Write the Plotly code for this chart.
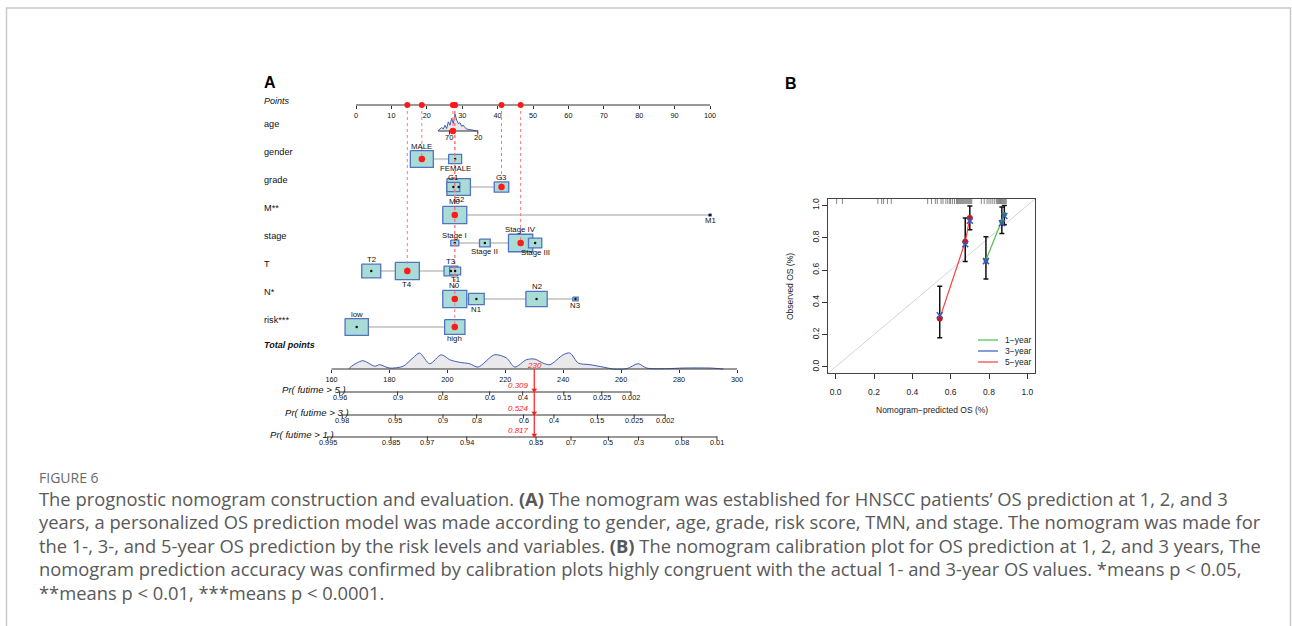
import numpy as np
import plotly.graph_objects as go

W, H = 1292, 626
FONT = "Liberation Sans, Arial, sans-serif"

# ------------------------------------------------------------------ data (A)
points_ticks = list(range(0, 101, 10))
total_ticks = list(range(160, 301, 20))
row_names = ["age", "gender", "grade", "M**", "stage", "T", "N*", "risk***"]

age_ticks = [70, 20]
age_tick_points = [26.4, 34.4]
age_span = [90, 20]
age_dens_age = [89.6, 83.7, 80.8, 77.9, 74.9, 72.0, 69.1, 66.1, 63.1, 60.2, 57.3, 54.3,
                51.4, 48.4, 45.5, 42.6, 39.6, 33.7, 27.9, 21.9]
age_dens_val = [0.04, 0.20, 0.12, 0.34, 0.14, 0.54, 0.34, 0.74, 0.44, 1.0, 0.64, 0.44,
                0.48, 0.28, 0.34, 0.20, 0.12, 0.08, 0.04, 0.0]

gender_levels = ["MALE", "FEMALE"]
gender_pts = [18.6, 28.0]
gender_freq = [23, 13]

grade_levels = ["G1", "G2", "G3"]
grade_pts = [27.5, 29.0, 41.1]
grade_freq = [13, 23.5, 14.5]

m_levels = ["M0", "M1"]
m_pts = [27.9, 100.0]
m_freq = [24, 2.5]

stage_levels = ["Stage I", "Stage II", "Stage IV", "Stage III"]
stage_pts = [27.9, 36.4, 46.5, 50.6]
stage_freq = [8, 10.7, 24.3, 13.3]

t_levels = ["T2", "T4", "T3", "T1"]
t_pts = [4.3, 14.5, 26.8, 28.0]
t_freq = [19, 24, 13.7, 11]

n_levels = ["N0", "N1", "N2", "N3"]
n_pts = [27.9, 34.0, 51.0, 62.0]
n_freq = [24, 15.7, 21.3, 5.3]

risk_levels = ["low", "high"]
risk_pts = [0.2, 27.9]
risk_freq = [23.3, 20.3]

selected_age = 64
selected = {"gender": "MALE", "grade": "G3", "M**": "M0", "stage": "Stage IV",
            "T": "T4", "N*": "N0", "risk***": "high"}

total_dens_t = [166.2, 170.8, 174.9, 176.6, 180.0, 184.7, 188.1, 190.4, 193.9, 197.9, 200.8,
                204.2, 207.7, 210.6, 216.3, 220.4, 223.3, 227.3, 230.2, 233.0, 235.4, 240.0,
                242.3, 245.2, 249.2, 253.8, 257.2, 261.9, 265.9, 268.8, 275.7, 281.4, 290.7, 295.3]
total_dens_val = [0.06, 0.52, 0.17, 0.27, 0.06, 0.17, 0.69, 1.0, 0.33, 0.89, 0.58,
                  0.42, 0.33, 0.12, 0.89, 0.69, 0.12, 0.58, 0.62, 0.37, 0.27, 0.89,
                  1.0, 0.37, 0.27, 0.12, 0.0, 0.02, 0.33, 0.06, 0.02, 0.06, 0.06, 0.0]

total_value = 230
pr_names = ["Pr( futime > 5 )", "Pr( futime > 3 )", "Pr( futime > 1 )"]
pr_values = [0.309, 0.524, 0.817]
pr5_labels = ["0.96", "0.9", "0.8", "0.6", "0.4", "0.15", "0.025", "0.002"]
pr5_total = [162.8, 182.8, 198.4, 214.6, 226.0, 240.2, 253.3, 263.4]
pr3_labels = ["0.98", "0.95", "0.9", "0.8", "0.6", "0.4", "0.15", "0.025", "0.002"]
pr3_total = [163.7, 182.0, 198.5, 210.1, 226.3, 236.8, 251.8, 264.5, 275.2]
pr1_labels = ["0.995", "0.985", "0.97", "0.94", "0.85", "0.7", "0.5", "0.3", "0.08", "0.01"]
pr1_total = [158.7, 180.5, 193.1, 206.7, 230.6, 242.7, 255.6, 266.0, 280.9, 293.1]

# ------------------------------------------------------------------ data (B)
calib_names = ["1\u2212year", "3\u2212year", "5\u2212year"]
calib_colors = ["#4cc24c", "#3a56c8", "#ff3b3b"]
y1_pred = [0.784, 0.867, 0.880]
y1_obs = [0.662, 0.899, 0.944]
y1_lo = [0.545, 0.827, 0.880]
y1_hi = [0.806, 0.990, 1.000]
y1_corr = [0.655, 0.890, 0.935]
y5_pred = [0.543, 0.676, 0.700]
y5_obs = [0.300, 0.775, 0.923]
y5_lo = [0.180, 0.652, 0.850]
y5_hi = [0.500, 0.923, 0.997]
y5_corr = [0.320, 0.760, 0.905]
rug_pred = [0.005, 0.035, 0.22, 0.24, 0.25, 0.27, 0.29,
            0.48, 0.50, 0.52, 0.53, 0.55, 0.56, 0.575, 0.585, 0.595, 0.60, 0.61, 0.62,
            0.63, 0.635, 0.64, 0.645, 0.65, 0.655, 0.66, 0.665, 0.67, 0.675, 0.68, 0.685,
            0.69, 0.695, 0.70, 0.705, 0.71,
            0.76, 0.775, 0.79, 0.80, 0.81, 0.82, 0.83, 0.84, 0.845, 0.85, 0.855, 0.86,
            0.865, 0.87, 0.875, 0.88, 0.885, 0.89]
calib_ticks = [0.0, 0.2, 0.4, 0.6, 0.8, 1.0]

caption_head = "FIGURE 6"
caption_lines = [
    "The prognostic nomogram construction and evaluation. <b>(A)</b> The nomogram was established for HNSCC patients\u2019 OS prediction at 1, 2, and 3",
    "years, a personalized OS prediction model was made according to gender, age, grade, risk score, TMN, and stage. The nomogram was made for",
    "the 1-, 3-, and 5-year OS prediction by the risk levels and variables. <b>(B)</b> The nomogram calibration plot for OS prediction at 1, 2, and 3 years, The",
    "nomogram prediction accuracy was confirmed by calibration plots highly congruent with the actual 1- and 3-year OS values. *means p &lt; 0.05,",
    "**means p &lt; 0.01, ***means p &lt; 0.0001.",
]

# ------------------------------------------------------------------ layout constants
P0_PX, P100_PX = 356, 710          # points axis 0 and 100
T0_PX, T1_PX = 331.5, 737          # total points axis 160 and 300
PPP = (P100_PX - P0_PX) / 100.0
TPP = (T1_PX - T0_PX) / (total_ticks[-1] - total_ticks[0])
Y_POINTS = 105
ROW_Y = {name: 131 + 28 * i for i, name in enumerate(row_names)}
Y_TOTAL = 369
PR_Y = [392, 415, 437]
LABEL_X = 262
BOX_FILL = "#a9dcd6"
BOX_LINE = "#5273c0"
RED = "#ff1a1a"

fig = go.Figure()


def pts_trace(**kw):
    fig.add_trace(go.Scatter(xaxis="x", yaxis="y", showlegend=False, hoverinfo="skip", **kw))


def tot_trace(**kw):
    fig.add_trace(go.Scatter(xaxis="x2", yaxis="y", showlegend=False, hoverinfo="skip", **kw))


annotations = []


def text(x, y, s, xref="x", yref="y", size=7.5, color="#111", xanchor="center",
         yanchor="middle", angle=0, family=FONT):
    annotations.append(dict(x=x, y=y, xref=xref, yref=yref, text=s, showarrow=False,
                            xanchor=xanchor, yanchor=yanchor, textangle=angle,
                            font=dict(size=size, color=color, family=family)))


def age_pts(a):
    a = np.asarray(a, float)
    slope = (age_tick_points[1] - age_tick_points[0]) / (age_ticks[1] - age_ticks[0])
    return age_tick_points[0] + (a - age_ticks[0]) * slope


# Points axis line
pts_trace(x=[points_ticks[0], points_ticks[-1]], y=[Y_POINTS, Y_POINTS], mode="lines",
          line=dict(color="#333", width=1))

# age row
ya = ROW_Y["age"]
dx = list(age_pts(age_dens_age))
dy = [ya - v * 17 for v in age_dens_val]
pts_trace(x=[dx[0]] + dx + [dx[-1]], y=[ya] + dy + [ya], mode="lines", fill="toself",
          fillcolor="#e9e9ec", line=dict(color="#3f5cb8", width=1))
pts_trace(x=list(age_pts(age_span)), y=[ya, ya], mode="lines", line=dict(color="#333", width=1))
pts_trace(x=list(age_pts(age_ticks)), y=[ya + 1.5] * 2, mode="markers",
          marker=dict(symbol="line-ns", size=3, line=dict(color="#333", width=1)))
for a, p in zip(age_ticks, age_pts(age_ticks)):
    text(p, ya + 6, str(a), size=7.5)

# categorical rows
cat_vars = [
    ("gender", gender_levels, gender_pts, gender_freq),
    ("grade", grade_levels, grade_pts, grade_freq),
    ("M**", m_levels, m_pts, m_freq),
    ("stage", stage_levels, stage_pts, stage_freq),
    ("T", t_levels, t_pts, t_freq),
    ("N*", n_levels, n_pts, n_freq),
    ("risk***", risk_levels, risk_pts, risk_freq),
]

for name, levels, pts, freq in cat_vars:
    y = ROW_Y[name]
    pts_trace(x=[min(pts), max(pts)], y=[y, y], mode="lines", line=dict(color="#cfcfcf", width=2))

for name, levels, pts, freq in cat_vars:
    y = ROW_Y[name]
    order = np.argsort(freq)[::-1]
    for i in order:
        hw = freq[i] / 2 / PPP
        hh = freq[i] * 0.72 / 2
        c = pts[i]
        pts_trace(x=[c - hw, c + hw, c + hw, c - hw, c - hw],
                  y=[y - hh, y - hh, y + hh, y + hh, y - hh], mode="lines", fill="toself",
                  fillcolor=BOX_FILL, line=dict(color=BOX_LINE, width=1.3))
    pts_trace(x=pts, y=[y] * len(pts), mode="markers", marker=dict(color="#111", size=2.5))
    rank = np.argsort(np.argsort(pts))
    for i, lev in enumerate(levels):
        hh = freq[i] * 0.72 / 2
        off = -(hh + 4.5) if rank[i] % 2 == 0 else (hh + 4.5)
        text(pts[i], y + off, lev, size=7.8)

# selected values: dotted guide lines and red dots
sel_x = [float(age_pts(selected_age))]
sel_y = [ya]
for name, levels, pts, freq in cat_vars:
    sel_x.append(pts[levels.index(selected[name])])
    sel_y.append(ROW_Y[name])
for x, y in zip(sel_x, sel_y):
    pts_trace(x=[x, x], y=[Y_POINTS, y], mode="lines",
              line=dict(color="#ff7a7a", width=1, dash="dot"))
pts_trace(x=sel_x, y=sel_y, mode="markers", marker=dict(color=RED, size=6.5), cliponaxis=False)
pts_trace(x=sel_x, y=[Y_POINTS] * len(sel_x), mode="markers", marker=dict(color=RED, size=6),
          cliponaxis=False)

# total points density + axis line
ty = [Y_TOTAL - v * 16 for v in total_dens_val]
tot_trace(x=[total_dens_t[0]] + total_dens_t + [total_dens_t[-1]], y=[Y_TOTAL] + ty + [Y_TOTAL],
          mode="lines", fill="toself", fillcolor="#e9e9ec",
          line=dict(color="#3f5cb8", width=1, shape="spline", smoothing=0.8))
tot_trace(x=[total_ticks[0], total_ticks[-1]], y=[Y_TOTAL, Y_TOTAL], mode="lines",
          line=dict(color="#333", width=1))

# probability axes
pr_sets = [(pr5_labels, pr5_total), (pr3_labels, pr3_total), (pr1_labels, pr1_total)]
for (labs, tot), yl, nm in zip(pr_sets, PR_Y, pr_names):
    tot_trace(x=[tot[0], tot[-1]], y=[yl, yl], mode="lines", line=dict(color="#333", width=1))
    tot_trace(x=tot, y=[yl + 1.5] * len(tot), mode="markers",
              marker=dict(symbol="line-ns", size=3, line=dict(color="#333", width=1)))
    for lab, t in zip(labs, tot):
        text(t, yl + 5.8, lab, xref="x2", size=7.3)
    text(tot[0] + 3.0, yl - 3.0, "<i>" + nm + "</i>", xref="x2", size=9.6, xanchor="right")

# red reading line
tot_trace(x=[total_value, total_value], y=[Y_TOTAL, PR_Y[-1]], mode="lines",
          line=dict(color=RED, width=1.2))
tot_trace(x=[total_value] * 3, y=[y - 2 for y in PR_Y], mode="markers",
          marker=dict(symbol="triangle-down", color=RED, size=5), cliponaxis=False)
text(total_value, Y_TOTAL - 4, "<i>%d</i>" % total_value, xref="x2", size=8, color=RED)
for v, yl in zip(pr_values, PR_Y):
    text(total_value - 1.2, yl - 7, "<i>%.3f</i>" % v, xref="x2", size=8, color=RED,
         xanchor="right")

# row labels
text(LABEL_X / W, Y_POINTS - 4, "<i>Points</i>", xref="paper", size=9, xanchor="left")
for name in row_names:
    text(LABEL_X / W, ROW_Y[name] - 7, name, xref="paper", size=9.2, xanchor="left")
text(LABEL_X / W, Y_TOTAL - 24, "<b><i>Total points</i></b>", xref="paper", size=9,
     xanchor="left")

# panel letters
text(LABEL_X / W, 1 - 82 / H, "<b>A</b>", xref="paper", yref="paper", size=16,
     xanchor="left", color="#000")
text(783 / W, 1 - 84 / H, "<b>B</b>", xref="paper", yref="paper", size=16,
     xanchor="left", color="#000")

# ------------------------------------------------------------------ panel B
def cx(**kw):
    fig.add_trace(go.Scatter(xaxis="x3", yaxis="y3", showlegend=False, hoverinfo="skip", **kw))


cx(x=[-0.04, 1.04], y=[-0.04, 1.04], mode="lines", line=dict(color="#d4d4d4", width=1))
cx(x=rug_pred, y=[1.026] * len(rug_pred), mode="markers",
   marker=dict(symbol="line-ns", size=4, color="#555", line=dict(color="#555", width=0.7)))
for pred, obs, lo, hi, corr, col, mcol, msz in [
        (y5_pred, y5_obs, y5_lo, y5_hi, y5_corr, calib_colors[2], "#c81818", 6),
        (y1_pred, y1_obs, y1_lo, y1_hi, y1_corr, calib_colors[0], "#2f8f3a", 5)]:
    cx(x=pred, y=obs, mode="lines+markers", line=dict(color=col, width=1.2),
       marker=dict(color=mcol, size=msz),
       error_y=dict(type="data", symmetric=False,
                    array=[h - o for h, o in zip(hi, obs)],
                    arrayminus=[o - l for o, l in zip(obs, lo)],
                    color="#111", thickness=1.5, width=2.5))
    cx(x=pred, y=corr, mode="markers",
       marker=dict(symbol="x-thin-open", size=6, color=calib_colors[1],
                   line=dict(color=calib_colors[1], width=1.5)))

# legend (manual)
for i, (nm, col) in enumerate(zip(calib_names, calib_colors)):
    yy = 1 - (340 + 11 * i) / H
    fig.add_shape(type="line", xref="paper", yref="paper", x0=978 / W, x1=998 / W,
                  y0=yy, y1=yy, line=dict(color=col, width=1.2))
    text(1003 / W, yy, nm, xref="paper", yref="paper", size=8.5, xanchor="left", color="#222")

text(790 / W, 1 - 286 / H, "Observed OS (%)", xref="paper", yref="paper", size=8.5,
     angle=-90, color="#222")
text(932 / W, 1 - 410 / H, "Nomogram\u2212predicted OS (%)", xref="paper", yref="paper",
     size=8.5, color="#222")

# ------------------------------------------------------------------ caption
text(37 / W, 1 - 477 / H, caption_head, xref="paper", yref="paper", size=14,
     xanchor="left", color="#6a6a6a", family="Open Sans, sans-serif")
for i, ln in enumerate(caption_lines):
    text(37 / W, 1 - (498 + 23.5 * i) / H, ln, xref="paper", yref="paper", size=18.35,
         xanchor="left", color="#595959", family="Open Sans, sans-serif")

# frame around the figure card
fig.add_shape(type="rect", xref="paper", yref="paper", x0=6.5 / W, x1=1290.5 / W,
              y0=-0.05, y1=1 - 8 / H, line=dict(color="#c9c9c9", width=1.5))

# ------------------------------------------------------------------ axes
x_lo = points_ticks[0] - P0_PX / PPP
x_hi = points_ticks[-1] + (W - P100_PX) / PPP
t_lo = total_ticks[0] - T0_PX / TPP
t_hi = total_ticks[-1] + (W - T1_PX) / TPP
tickf = dict(size=7.3, color="#111", family=FONT)

fig.update_layout(
    width=W, height=H, margin=dict(l=0, r=0, t=0, b=0),
    paper_bgcolor="white", plot_bgcolor="rgba(0,0,0,0)",
    showlegend=False, font=dict(family=FONT),
    annotations=annotations,
    xaxis=dict(domain=[0, 1], range=[x_lo, x_hi], anchor="free", position=1 - Y_POINTS / H,
               tickvals=points_ticks, ticks="outside", ticklen=3, tickcolor="#333",
               tickfont=tickf, showline=False, showgrid=False, zeroline=False,
               ticklabelstandoff=0),
    xaxis2=dict(domain=[0, 1], range=[t_lo, t_hi], anchor="free", position=1 - Y_TOTAL / H,
                tickvals=total_ticks, ticks="outside", ticklen=3, tickcolor="#333",
                tickfont=tickf, showline=False, showgrid=False, zeroline=False,
                ticklabelstandoff=0),
    yaxis=dict(domain=[0, 1], range=[H, 0], visible=False, fixedrange=True),
    xaxis3=dict(domain=[828 / W, 1035 / W], range=[-0.04, 1.04], anchor="y3",
                tickvals=calib_ticks, tickformat=".1f", ticks="outside", ticklen=5,
                tickcolor="#333", showline=True, mirror=True, linecolor="#444", linewidth=1,
                showgrid=False, zeroline=False, ticklabelstandoff=5,
                tickfont=dict(size=8.5, color="#222", family=FONT)),
    yaxis3=dict(domain=[1 - 373.3 / H, 1 - 199 / H], range=[-0.04, 1.04], anchor="x3",
                tickvals=calib_ticks, tickformat=".1f", ticks="outside", ticklen=5,
                tickcolor="#333", showline=True, mirror=True, linecolor="#444", linewidth=1,
                showgrid=False, zeroline=False, tickangle=-90,
                tickfont=dict(size=8.5, color="#222", family=FONT)),
)

fig.write_html("out.html")
